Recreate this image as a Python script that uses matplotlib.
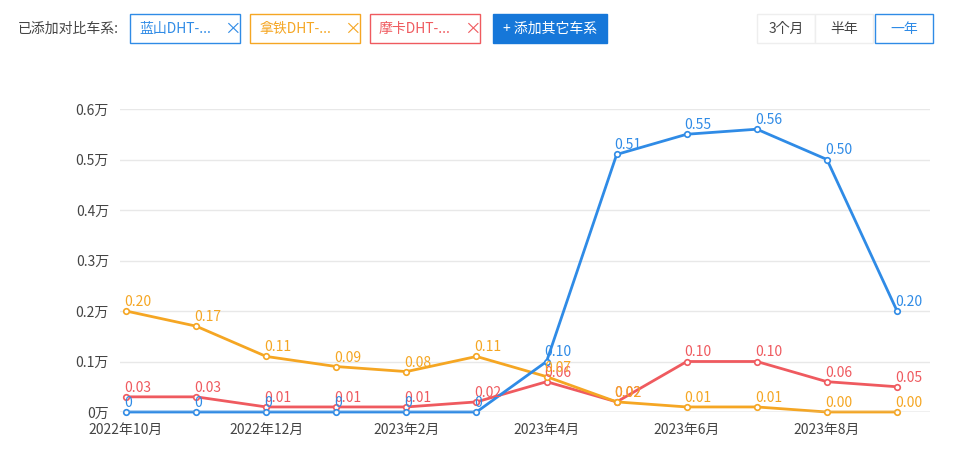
import matplotlib
matplotlib.use("Agg")
import matplotlib.pyplot as plt
from matplotlib import font_manager as fm
from matplotlib.patches import FancyBboxPatch

cjk = [f for f in fm.findSystemFonts() if "CJK" in f or "cjk" in f.lower()]
fam = []
for f in cjk:
    try:
        fm.fontManager.addfont(f)
        n = fm.FontProperties(fname=f).get_name()
        if n not in fam: fam.append(n)
    except Exception:
        pass
fam = sorted(fam, key=lambda n: 0 if "SC" in n else 1)
plt.rcParams["font.family"] = ["sans-serif"]
plt.rcParams["font.sans-serif"] = fam + ["Noto Sans CJK SC", "DejaVu Sans"]

months = ["2022年10月","2022年11月","2022年12月","2023年1月","2023年2月","2023年3月",
          "2023年4月","2023年5月","2023年6月","2023年7月","2023年8月","2023年9月"]
blue = [0,0,0,0,0,0,0.10,0.51,0.55,0.56,0.50,0.20]
orange = [0.20,0.17,0.11,0.09,0.08,0.11,0.07,0.02,0.01,0.01,0.00,0.00]
red = [0.03,0.03,0.01,0.01,0.01,0.02,0.06,0.02,0.10,0.10,0.06,0.05]
yticks = [0,0.1,0.2,0.3,0.4,0.5,0.6]
ylabels = ["0万","0.1万","0.2万","0.3万","0.4万","0.5万","0.6万"]

W,H = 960,459
fig = plt.figure(figsize=(9.6,4.59), dpi=100)
ax = fig.add_axes([120/W, 1-412/H, 810/W, 303/H])
x = list(range(len(months)))
cols = {"b":"#2f8be6","o":"#f5a623","r":"#ef5a5f"}
for ys,c,zero in [(red,cols["r"],"0.00"),(orange,cols["o"],"0.00"),(blue,cols["b"],"0")]:
    ax.plot(x, ys, color=c, lw=2, marker="o", ms=4, mfc="white", mec=c, mew=1.2, clip_on=False)
    for xi,yi in zip(x,ys):
        t = zero if yi==0 else f"{yi:.2f}"
        ax.text(xi-0.03, yi+0.004, t, color=c, fontsize=10, ha="left", va="bottom")
ax.set_xlim(-0.086, 11.47)
ax.set_ylim(0,0.6)
ax.set_yticks(yticks)
ax.set_yticklabels(ylabels, fontsize=10, color="#444")
ax.set_xticks(x[::2])
ax.set_xticklabels(months[::2], fontsize=10, color="#444")
ax.tick_params(length=0, pad=8)
ax.grid(axis="y", color="#e8e8e8", lw=1)
for s in ax.spines.values(): s.set_visible(False)
ax.axhline(0, color="#cccccc", lw=1)

def box(x0,y0,w,h,ec,fc="white"):
    fig.patches.append(FancyBboxPatch((x0/W,1-(y0+h)/H), w/W, h/H, boxstyle="square,pad=0",
                       transform=fig.transFigure, ec=ec, fc=fc, lw=1))
fig.text(18/W, 1-29/H, "已添加对比车系:", fontsize=10, color="#444", va="center")
for x0,w,c,t in [(130,110,"#2f8be6","蓝山DHT-..."),(250,110,"#f5a623","拿铁DHT-..."),(370,110,"#ef5a5f","摩卡DHT-...")]:
    box(x0,14,w,29,c)
    fig.text((x0+9)/W, 1-29/H, t, fontsize=10, color=c, va="center")
    fig.text((x0+w-16)/W, 1-29/H, "×", fontsize=12, color=c, va="center")
box(493,14,114,29,"#1677d9","#1677d9")
fig.text(550/W, 1-29/H, "+ 添加其它车系", fontsize=10, color="white", va="center", ha="center")
box(757,14,58,29,"#eeeeee"); box(815,14,58,29,"#eeeeee"); box(875,14,58,29,"#2f8be6")
fig.text(786/W,1-29/H,"3个月",fontsize=10,color="#444",va="center",ha="center")
fig.text(844/W,1-29/H,"半年",fontsize=10,color="#444",va="center",ha="center")
fig.text(904/W,1-29/H,"一年",fontsize=10,color="#2f8be6",va="center",ha="center")
fig.savefig("out.png", dpi=100, facecolor="white")
